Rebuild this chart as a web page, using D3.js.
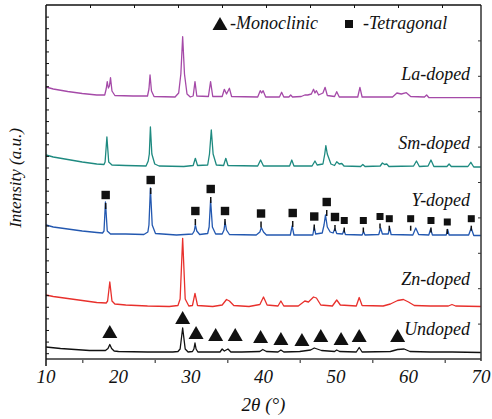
<!DOCTYPE html>
<html><head><meta charset="utf-8">
<script src="https://cdn.jsdelivr.net/npm/d3@7"></script>
<style>
html,body{margin:0;padding:0;background:#fff;}
</style></head><body>
<svg id="chart" width="492" height="419"></svg>
<script>
// ---------- DATA ----------
const xTickValues = [10, 20, 30, 40, 50, 60, 70];
const xTickLabels = ["10", "20", "30", "40", "50", "60", "70"];
const seriesNames = ["Undoped", "Zn-doped", "Y-doped", "Sm-doped", "La-doped"];

// [2theta, intensity (a.u., stacked)]
const undoped = [[10,12],[12,10.5],[14,9.5],[16,8.5],[18.2,8.5],[18.55,10.5],[18.8,14.5],[19.05,10.5],[19.4,8],
 [20,7.5],[24,7],[27.5,7],[28.2,7.5],[28.5,10],[28.85,31],[29.2,10],[29.6,7],
 [30.2,7.5],[30.4,10],[30.55,16],[30.7,10],[30.95,7],[32,7],[34,7],[34.3,10],[34.6,8],[35.1,10],[35.5,7],
 [37,7],[39.5,7.5],[39.9,9.5],[40.4,7.5],[42,7],[42.4,9],[42.8,7],
 [45,7.5],[46.5,9],[47,11],[47.4,10],[48,8.5],[49.8,7.5],[50.1,9],[50.5,7.5],
 [52.8,7],[53.2,11.5],[53.6,7],[57.5,7.5],[58.5,9.5],[59.4,10],[60.2,7.5],[63,7],[66,7],[70,6.5]];

const znDoped = [[10,64],[11,62.5],[13,60.5],[15,58.5],[17,56.5],[18.3,56],[18.5,58],[18.8,77],[19.1,58],[19.5,55],
 [21,54],[24,53],[27,52.5],[28.2,53.5],[28.5,60],[28.85,120.7],[29.2,60],[29.7,53],
 [30.2,53.5],[30.55,65.7],[30.9,53.5],[33,52.5],[34.3,54],[34.9,59.5],[35.3,58],[35.9,53.5],
 [38,52.5],[39.5,54.5],[40,62],[40.5,54],[42,53],[42.4,58],[42.8,53],
 [44.8,53],[45.7,58],[46.2,57],[46.9,62],[47.3,61],[47.9,54],[49.5,53],[50.1,59],[50.6,54],
 [52.8,53],[53.2,61.5],[53.6,53.5],[56.5,53],[57.5,55],[58.5,58.5],[59.3,59.5],[60,57],[60.8,53.5],
 [63,53],[65.5,53],[66,54.5],[66.5,53],[70,52.5]];

const yDoped = [[10,134],[11,132],[13,130],[15,128],[17,126.5],[17.8,126],[18.0,128],[18.2,157],[18.45,128],[18.9,125],
 [21,125],[23.5,124.5],[24.05,127],[24.2,134],[24.4,171],[24.65,134],[25.1,125.5],
 [28,124],[30.2,125],[30.45,128],[30.6,134],[30.8,128],[31.2,124.5],
 [32.3,125.5],[32.5,132],[32.7,159],[32.95,132],[33.4,125],
 [34.3,125],[34.55,129],[34.7,137],[34.9,129],[35.3,124.5],
 [39,124],[39.5,127],[39.7,131.5],[40,127],[40.4,124],[43.7,124],[43.95,133],[44.2,124],
 [46.8,124],[47.0,132],[47.2,125],[48.1,126],[48.35,134],[48.55,144],[48.8,132],[49.2,127],
 [49.6,126],[49.85,130.5],[50.1,125.5],[50.9,125],[51.1,129],[51.3,124.5],
 [53.6,124],[53.8,127.5],[54,124],[55.9,124.5],[56.15,131],[56.4,125],[57.2,125],[57.4,131],[57.6,124.5],
 [60.6,124],[61.0,131],[61.4,124.5],[62.8,124],[63.05,130],[63.3,124],
 [65.2,124],[65.4,129.5],[65.6,124],[68.3,124],[68.65,131],[69,123.5],[70,123.5]];

const smDoped = [[10,204],[11,202],[13,199.5],[15,197],[17,195],[18.0,194.5],[18.15,197],[18.4,222],[18.65,197],[19.1,194],
 [21,193.5],[23.8,193],[24.1,198],[24.25,205],[24.4,232],[24.6,205],[25.0,195],[25.6,193],
 [29,192.5],[30.3,193.5],[30.6,200.7],[30.9,193.5],
 [32.3,194],[32.55,205],[32.8,229],[33.05,205],[33.5,194],
 [34.5,193.5],[34.8,200.7],[35.1,193.5],[39.2,193],[39.6,199],[40.0,193],
 [43.6,193],[43.9,199],[44.2,193],[46.7,193],[47.1,198],[47.4,194],
 [48.2,195],[48.45,205],[48.6,213.3],[48.8,205],[49.3,195],
 [49.8,193.5],[50.1,197.3],[50.45,195],[50.8,195.5],[51.1,193],
 [53.4,192.5],[53.7,194.5],[54,192.5],[56.1,193],[56.4,196],[56.7,194.5],[57.0,195],[57.3,192.5],
 [60.7,193],[61.1,198],[61.5,192.5],[62.7,193],[63.1,199],[63.5,192.5],
 [65.3,192.5],[65.6,195],[65.9,192.5],[68.2,192.5],[68.6,196.7],[69.0,192],[70,192]];

const laDoped = [[10,272],[11,270],[13,267.5],[15,265.5],[17,264],[18.1,264],
 [18.3,270],[18.45,277.3],[18.6,271],[18.75,273],[18.9,281.3],[19.1,268],[19.5,263.5],
 [22,263],[24.0,263],[24.2,270],[24.35,284],[24.55,268],[24.9,262.5],
 [27.8,262],[28.3,266],[28.6,285],[28.85,322.3],[29.1,285],[29.45,265],[29.9,262],
 [30.3,263],[30.55,277.3],[30.8,263],[32.4,262.5],[32.7,277.3],[33.0,262.5],
 [34.3,262.5],[34.6,269.7],[34.9,265],[35.3,270.7],[35.6,262.5],
 [39.2,262],[39.55,268.3],[39.75,266],[39.95,268.3],[40.3,262],
 [42.2,262],[42.5,266.7],[42.8,262],[43.5,262],[43.75,264],[44,262],
 [45.2,262.5],[45.7,264],[46.1,264],[46.6,265],[46.9,269.7],[47.1,266],[47.3,268.3],[47.6,264],
 [48.2,266],[48.5,271.7],[48.8,263.5],[49.8,262.5],[50.1,267.3],[50.45,262],
 [53.0,262],[53.3,271.7],[53.6,262],[57.8,262],[58.4,266],[59.0,265],[59.7,266.3],[60.3,262.5],
 [62.2,262],[62.5,264],[62.8,261.5],[70,261.3]];

// phase markers [2theta, intensity level]
const monoclinicMarks = [[18.8,27],[28.85,41],[30.7,26],[33.4,24],[36.1,24],[39.6,22],[42.4,20],[45.3,19],[47.9,23],[50.7,20],[53.2,23],[58.5,23]];
const tetragonalMarks = [[18.23,164],[24.44,179],[30.6,148],[32.72,170],[34.69,148],[39.66,145.5],[44.03,146],[47.0,142.5],[48.72,157],[49.86,142],
 [51.14,138.5],[53.77,138.5],[56.07,142.5],[57.35,140.3],[60.3,140.3],[63.1,138.5],[65.35,137],[68.66,140.3]];

// ---------- LAYOUT ----------
const FONT = "'Liberation Serif', 'Times New Roman', Times, 'DejaVu Serif', serif";
const L = 46, R = 481, T = 5, B = 359;
const svg = d3.select("#chart");
const x = d3.scaleLinear().domain([10, 70]).range([L, R]);
const y = d3.scaleLinear().domain([0, 354]).range([B, T]);
const yLeft = d3.scaleLinear().domain([-0.5, 30]).range([B, T]);
const yRight = d3.scaleLinear().domain([0, 10]).range([B, T]);
const xTop = d3.scaleLinear().domain([0, 10]).range([L, L + 440]);

function txt(sel, size) {
  return sel.style("font-family", FONT).style("font-style", "italic")
    .style("font-size", size + "px").style("fill", "#111");
}

const series = [
  {name: seriesNames[0], data: undoped, color: "#111111", label: 24},
  {name: seriesNames[1], data: znDoped, color: "#e8302c", label: 74},
  {name: seriesNames[2], data: yDoped, color: "#2358b0", label: 153},
  {name: seriesNames[3], data: smDoped, color: "#1e8a80", label: 210},
  {name: seriesNames[4], data: laDoped, color: "#a54aa8", label: 279}
];

const line = d3.line().x(d => x(d[0])).y(d => y(d[1]));
svg.append("g").selectAll("path").data(series).join("path")
  .attr("d", d => line(d.data)).attr("fill", "none")
  .attr("stroke", d => d.color).attr("stroke-width", 1.3).attr("stroke-linejoin", "round");

// series labels
txt(svg.append("g").selectAll("text").data(series).join("text")
  .attr("x", x(68.5)).attr("y", d => y(d.label)).attr("text-anchor", "end")
  .text(d => d.name), 18);

// markers
const tri = "M0,-7L7.5,6L-7.5,6Z";
svg.append("g").selectAll("path").data(monoclinicMarks).join("path")
  .attr("d", tri).attr("transform", d => `translate(${x(d[0])},${y(d[1])})`).attr("fill", "#111");
const sq = svg.append("g");
sq.selectAll("line").data(tetragonalMarks).join("line")
  .attr("x1", d => x(d[0])).attr("x2", d => x(d[0]))
  .attr("y1", (d, i) => y(d[1]) + (i < 10 ? 8 : 7)).attr("y2", (d, i) => y(d[1]) + (i < 10 ? 14 : 12))
  .attr("stroke", "#111").attr("stroke-width", 1.5);
sq.selectAll("rect").data(tetragonalMarks).join("rect")
  .attr("x", (d, i) => x(d[0]) - (i < 10 ? 4.2 : 3.5)).attr("y", (d, i) => y(d[1]) - (i < 10 ? 4.2 : 3.5))
  .attr("width", (d, i) => i < 10 ? 8.4 : 7).attr("height", (d, i) => i < 10 ? 8.4 : 7).attr("fill", "#111");

// legend
svg.append("path").attr("d", tri).attr("transform", `translate(220,24)`).attr("fill", "#111");
txt(svg.append("text").attr("x", 230).attr("y", 29).text("-Monoclinic"), 18);
svg.append("rect").attr("x", 345).attr("y", 20).attr("width", 8).attr("height", 8).attr("fill", "#111");
txt(svg.append("text").attr("x", 363).attr("y", 29).text("-Tetragonal"), 18);

// axes
const ax = svg.append("g");
ax.append("g").attr("transform", `translate(0,${B})`)
  .call(d3.axisBottom(x).tickValues([15,25,35,45,55,65]).tickSize(4).tickFormat(""))
  .call(g => g.select(".domain").remove())
  .call(g => g.selectAll("line").attr("stroke", "#666").attr("stroke-width", 1.5));
ax.append("line").attr("x1", L).attr("x2", R).attr("y1", B).attr("y2", B).attr("stroke", "#666").attr("stroke-width", 2);
ax.append("g").attr("transform", `translate(${L},0)`)
  .call(d3.axisRight(yLeft).tickValues(d3.range(0, 30)).tickSize(3).tickFormat(""))
  .call(g => g.select(".domain").remove())
  .call(g => g.selectAll("line").attr("stroke", "#111").attr("stroke-width", 1));
ax.append("line").attr("x1", L).attr("x2", L).attr("y1", T).attr("y2", B + 7).attr("stroke", "#111").attr("stroke-width", 1.5);
ax.append("g").attr("transform", `translate(${R},0)`)
  .call(d3.axisLeft(yRight).tickValues([1,2,3,4,5,6,7,8,9]).tickSize(3).tickFormat(""))
  .call(g => g.select(".domain").remove())
  .call(g => g.selectAll("line").attr("stroke", "#333").attr("stroke-width", 1));
ax.append("line").attr("x1", R).attr("x2", R).attr("y1", T).attr("y2", B + 2).attr("stroke", "#333").attr("stroke-width", 1.5);
ax.append("g").attr("transform", `translate(0,${T})`)
  .call(d3.axisBottom(xTop).tickValues([1,2,3,4,5,6,7,8,9]).tickSize(3).tickFormat(""))
  .call(g => g.select(".domain").remove())
  .call(g => g.selectAll("line").attr("stroke", "#111").attr("stroke-width", 1));
ax.append("line").attr("x1", L).attr("x2", R).attr("y1", T).attr("y2", T).attr("stroke", "#111").attr("stroke-width", 1.5);

// tick labels
txt(svg.append("g").selectAll("text").data(xTickValues).join("text")
  .attr("x", d => x(d)).attr("y", 383).attr("text-anchor", "middle")
  .text((d, i) => xTickLabels[i]), 19);

// axis titles
txt(svg.append("text").attr("x", (L + R) / 2).attr("y", 411).attr("text-anchor", "middle")
  .text("2θ (°)"), 19);
txt(svg.append("text").attr("transform", `translate(21,178) rotate(-90)`).attr("text-anchor", "middle")
  .text("Intensity (a.u.)"), 17);
</script>
</body></html>
